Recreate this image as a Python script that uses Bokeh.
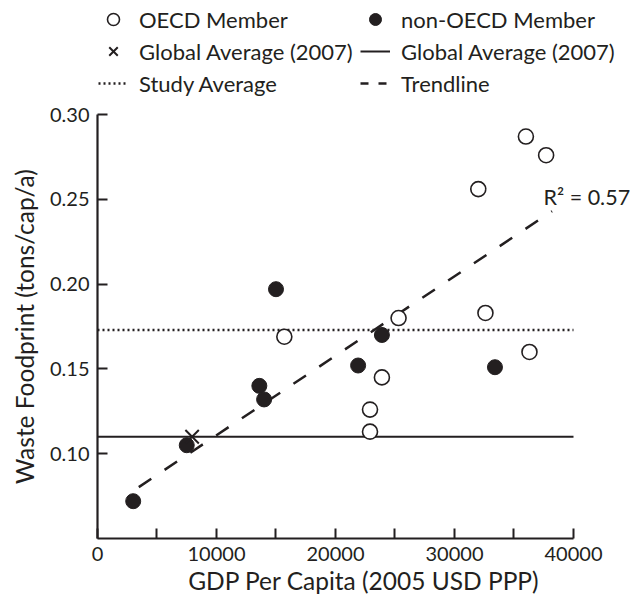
from bokeh.plotting import figure
from bokeh.layouts import column
from bokeh.models import Legend, LegendItem, FixedTicker, Label
from bokeh.embed import file_html
from bokeh.resources import INLINE

# ---- data ----
oecd_gdp = [15700, 25300, 23900, 22900, 22900, 36000, 37700, 32000, 32600, 36300]
oecd_waste = [0.169, 0.180, 0.145, 0.126, 0.113, 0.287, 0.276, 0.256, 0.183, 0.160]
non_oecd_gdp = [3000, 7500, 13600, 14000, 15000, 21900, 23900, 33400]
non_oecd_waste = [0.072, 0.105, 0.140, 0.132, 0.197, 0.152, 0.170, 0.151]
global_gdp = [7950]
global_waste = [0.110]
global_avg = 0.110
study_avg = 0.173
trend_gdp = [3470, 38200]
trend_waste = [0.0803, 0.243]
r_squared = "0.57"
x_ticks = [0, 10000, 20000, 30000, 40000]
x_minor_ticks = [5000, 15000, 25000, 35000]
y_ticks = [0.10, 0.15, 0.20, 0.25, 0.30]
x_axis_bounds = (0, 40000)
y_axis_bounds = (0.05, 0.30)
# visible data window (extra room on the right holds the R² note)
x_view = (0, 44790)
y_view = (0.05, 0.30)

FONT = "Lato"
INK = "#231f20"
NAN = float("nan")

# ---------------- key (legend) strip ----------------
key = figure(output_backend="svg", toolbar_location=None, width=630, height=101,
             x_axis_type=None, y_axis_type=None, x_range=(0, 1), y_range=(0, 1),
             min_border_left=0, min_border_right=0, min_border_top=0, min_border_bottom=0)
key.outline_line_color = None
key.grid.visible = False
# legend swatches only: their single point is undefined, so nothing is drawn in the strip
k_oecd = key.scatter([NAN], [NAN], marker="circle", size=15, fill_color="white", line_color=INK, line_width=1.6)
k_non = key.scatter([NAN], [NAN], marker="circle", size=15, fill_color=INK, line_color=INK)
k_x = key.scatter([NAN], [NAN], marker="x", size=15, line_color=INK, line_width=2)
k_gl = key.line([NAN, NAN], [NAN, NAN], line_color=INK, line_width=2)
k_study = key.line([NAN, NAN], [NAN, NAN], line_color=INK, line_width=2.5, line_dash="2 3")
k_trend = key.line([NAN, NAN], [NAN, NAN], line_color=INK, line_width=2.5, line_dash="8 10")
legend = Legend(items=[
    LegendItem(label="OECD Member", renderers=[k_oecd]),
    LegendItem(label="Global Average (2007)", renderers=[k_x]),
    LegendItem(label="Study Average", renderers=[k_study]),
    LegendItem(label="non-OECD Member", renderers=[k_non]),
    LegendItem(label="Global Average (2007)", renderers=[k_gl]),
    LegendItem(label="Trendline", renderers=[k_trend]),
], ncols=2, location=(1, 2), border_line_color=None, background_fill_alpha=0,
    padding=0, margin=0, spacing=0, glyph_width=30, glyph_height=32, label_height=32,
    label_width=221, label_standoff=11, label_text_font=FONT, label_text_font_size="22px",
    label_text_color=INK)
key.add_layout(legend, "center")

# ---------------- main chart ----------------
p = figure(output_backend="svg", toolbar_location=None,
           x_range=x_view, y_range=y_view,
           frame_width=533, frame_height=424,
           min_border_left=97, min_border_right=0, min_border_top=13, min_border_bottom=55)
p.outline_line_color = None
p.grid.visible = False
p.background_fill_color = "white"
p.border_fill_color = "white"

lx = list(x_axis_bounds)
p.line(lx, [global_avg, global_avg], line_color=INK, line_width=2)
p.line(lx, [study_avg, study_avg], line_color=INK, line_width=2.5, line_dash="2 3")
p.line(trend_gdp, trend_waste, line_color=INK, line_width=2.5, line_dash="15 16")
p.scatter(oecd_gdp, oecd_waste, marker="circle", size=15, fill_color="white",
          line_color=INK, line_width=1.6)
p.scatter(non_oecd_gdp, non_oecd_waste, marker="circle", size=15, fill_color=INK,
          line_color=INK, line_width=1)
p.scatter(global_gdp, global_waste, marker="x", size=19, line_color=INK, line_width=2)

for ax in (p.xaxis[0], p.yaxis[0]):
    ax.axis_line_width = 2.2
    ax.axis_line_color = INK
    ax.major_tick_line_color = INK
    ax.major_tick_line_width = 2
    ax.minor_tick_line_color = INK
    ax.minor_tick_line_width = 2
    ax.major_tick_in = 10
    ax.major_tick_out = 0
    ax.minor_tick_in = 10
    ax.minor_tick_out = 0
    ax.major_label_text_font = FONT
    ax.major_label_text_font_size = "20px"
    ax.major_label_text_color = INK
    ax.axis_label_text_font = FONT
    ax.axis_label_text_font_size = "24.5px"
    ax.axis_label_text_font_style = "normal"
    ax.axis_label_text_color = INK

p.xaxis.bounds = x_axis_bounds
p.yaxis.bounds = y_axis_bounds
p.xaxis.ticker = FixedTicker(ticks=x_ticks, minor_ticks=x_minor_ticks)
p.yaxis.ticker = FixedTicker(ticks=y_ticks, minor_ticks=[])
p.xaxis.major_label_overrides = {t: str(t) for t in x_ticks}
p.yaxis.major_label_overrides = {t: f"{t:.2f}" for t in y_ticks}
p.xaxis.axis_label = "GDP Per Capita (2005 USD PPP)"
p.yaxis.axis_label = "Waste Foodprint (tons/cap/a)"
p.xaxis.major_label_standoff = 8
p.xaxis.axis_label_standoff = 2
p.yaxis.major_label_standoff = 8
p.yaxis.axis_label_standoff = 8

p.add_layout(Label(x=37480, y=0.2511, text="R\u00b2 = " + r_squared, text_baseline="alphabetic",
                   text_font=FONT, text_font_size="21.5px", text_color=INK))

layout = column(key, p, spacing=0)
open("out.html", "w").write(file_html(layout, INLINE))
